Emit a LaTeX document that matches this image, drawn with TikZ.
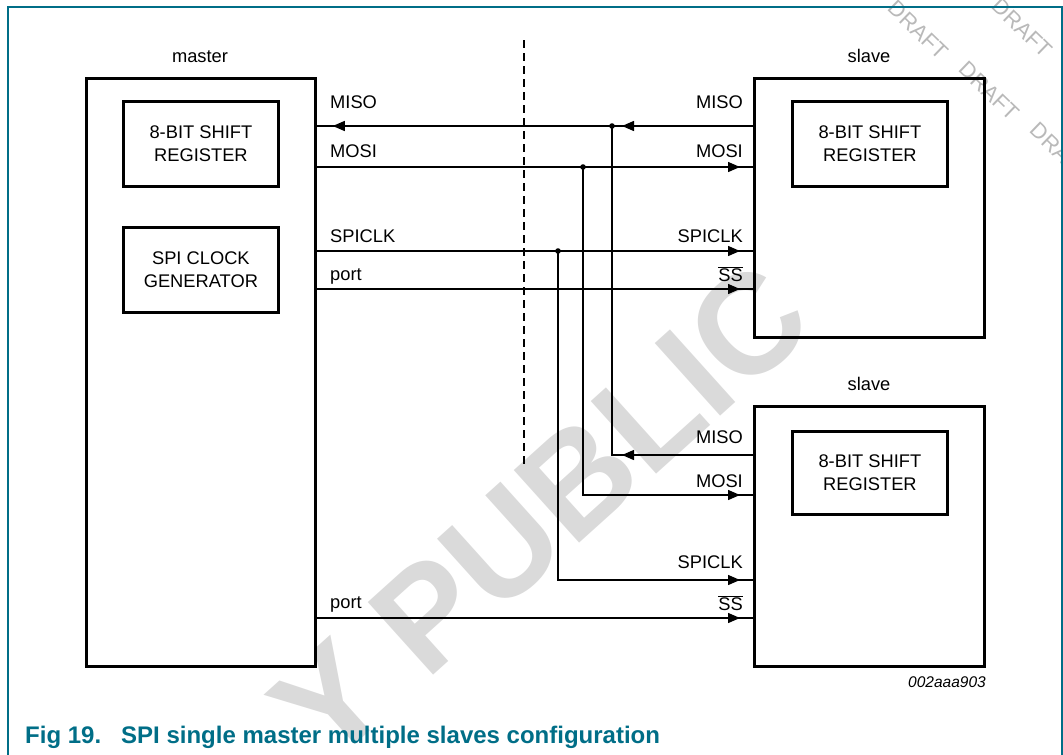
\documentclass[tikz,border=0pt]{standalone}
\usepackage{fontspec}
\setmainfont{Liberation Sans}
\usetikzlibrary{arrows.meta,calc}
\definecolor{nxpteal}{RGB}{0,110,135}
\definecolor{wmgray}{RGB}{218,218,218}
\definecolor{draftgray}{RGB}{185,185,185}
\newcommand{\sigfont}{\fontsize{18.3}{23}\selectfont}
\begin{document}
\begin{tikzpicture}[x=1pt,y=-1pt,
  box/.style={draw, line width=2.8pt, inner sep=0pt, align=center, font=\sigfont},
  sig/.style={line width=1.4pt},
  lbl/.style={inner sep=0pt, font=\sigfont},
  tipr/.style={line width=1.4pt, -{Triangle[length=12pt,width=10pt]}},
  dot/.style={fill=black},
  wm/.style={inner sep=0pt, text=wmgray, rotate=42, font=\fontsize{142}{142}\selectfont\bfseries},
  draft/.style={inner sep=0pt, text=draftgray, rotate=-44, font=\fontsize{22}{22}\selectfont},
]
\useasboundingbox (0,0) rectangle (1063,755);
\clip (0,0) rectangle (1063,755);

% watermarks
\node[wm] (wmy) at (330,702) {Y};
\node[wm] (wmp) at (590,468) {PUBLIC};
\node[draft] (dr1) at (918,30) {DRAFT};
\node[draft] (dr2) at (989,91) {DRAFT};
\node[draft] (dr3) at (1060,152) {DRAFT};
\node[draft] (dr4) at (1022,28) {DRAFT};
\node[draft] (dr5) at (1093,89) {DRAFT};

% frame
\coordinate (ftl) at (8,7);
\coordinate (fbr) at (1062,800);
\draw[nxpteal, line width=1.3pt] (ftl) rectangle (fbr);

% boxes
\node[box, anchor=north west, minimum width=229pt, minimum height=588pt] (master) at (85,77) {};
\node[box, anchor=north west, minimum width=155pt, minimum height=85pt] (mreg) at (122,100) {8-BIT SHIFT\\REGISTER};
\node[box, anchor=north west, minimum width=155pt, minimum height=85pt] (mclk) at (122,226) {SPI CLOCK\\GENERATOR};
\node[box, anchor=north west, minimum width=230pt, minimum height=259pt] (slave1) at (753,77) {};
\node[box, anchor=north west, minimum width=155pt, minimum height=85pt] (s1reg) at (791,100) {8-BIT SHIFT\\REGISTER};
\node[box, anchor=north west, minimum width=230pt, minimum height=260pt] (slave2) at (753,405) {};
\node[box, anchor=north west, minimum width=155pt, minimum height=83pt] (s2reg) at (791,430) {8-BIT SHIFT\\REGISTER};

\node[lbl, anchor=base] (lmaster) at (200,62) {master};
\node[lbl, anchor=base] (lslave1) at (869,62) {slave};
\node[lbl, anchor=base] (lslave2) at (869,390) {slave};

% dashed separator
\coordinate (dtop) at (524,40);
\coordinate (dbot) at (524,467);
\draw[line width=1.3pt, dash pattern=on 8pt off 5pt] (dtop) -- (dbot);

% junctions
\coordinate (jmiso) at (612,126);
\coordinate (jmosi) at (583,167);
\coordinate (jclk) at (558,251);
\coordinate (jport) at (524,289);
\coordinate (s2miso) at (753,455);
\coordinate (s2mosi) at (753,495);
\coordinate (s2clk) at (753,580);
\coordinate (s2ss) at (753,618);

% MISO slave1 -> master
\draw[sig] (slave1.west |- jmiso) -- (master.east |- jmiso);
\draw[tipr] ($(jmiso)+(30,0)$) -- ($(jmiso)+(10,0)$);
\draw[tipr] ($(master.east |- jmiso)+(36,0)$) -- ($(master.east |- jmiso)+(16,0)$);
% MOSI
\draw[sig] (master.east |- jmosi) -- (slave1.west |- jmosi);
\draw[tipr] ($(slave1.west |- jmosi)+(-33,0)$) -- ($(slave1.west |- jmosi)+(-13,0)$);
% SPICLK
\draw[sig] (master.east |- jclk) -- (slave1.west |- jclk);
\draw[tipr] ($(slave1.west |- jclk)+(-33,0)$) -- ($(slave1.west |- jclk)+(-13,0)$);
% port -> SS
\draw[sig] (master.east |- jport) -- (slave1.west |- jport);
\draw[tipr] ($(slave1.west |- jport)+(-33,0)$) -- ($(slave1.west |- jport)+(-13,0)$);

% branches to slave 2
\draw[sig] (jmiso) |- (s2miso);
\draw[tipr] ($(jmiso |- s2miso)+(30,0)$) -- ($(jmiso |- s2miso)+(10,0)$);
\draw[sig] (jmosi) |- (s2mosi);
\draw[tipr] ($(s2mosi)+(-33,0)$) -- ($(s2mosi)+(-13,0)$);
\draw[sig] (jclk) |- (s2clk);
\draw[tipr] ($(s2clk)+(-33,0)$) -- ($(s2clk)+(-13,0)$);
\draw[sig] (master.east |- s2ss) -- (s2ss);
\draw[tipr] ($(s2ss)+(-33,0)$) -- ($(s2ss)+(-13,0)$);

\fill[dot] (jmiso) circle (2.8pt);
\fill[dot] (jmosi) circle (2.8pt);
\fill[dot] (jclk) circle (2.8pt);

% labels master side
\node[lbl, anchor=base west] (lm1) at (330,108) {MISO};
\node[lbl, anchor=base west] (lm2) at (330,157) {MOSI};
\node[lbl, anchor=base west] (lm3) at (330,242) {SPICLK};
\node[lbl, anchor=base west] (lm4) at (330,280) {port};
\node[lbl, anchor=base west] (lm5) at (330,608) {port};
% labels slave 1
\node[lbl, anchor=base east] (ls1) at (743,108) {MISO};
\node[lbl, anchor=base east] (ls2) at (743,157) {MOSI};
\node[lbl, anchor=base east] (ls3) at (743,242) {SPICLK};
\node[lbl, anchor=base east] (ls4) at (743,281) {$\overline{\hbox{SS}}$};
% labels slave 2
\node[lbl, anchor=base east] (lt1) at (743,443) {MISO};
\node[lbl, anchor=base east] (lt2) at (743,487) {MOSI};
\node[lbl, anchor=base east] (lt3) at (743,568) {SPICLK};
\node[lbl, anchor=base east] (lt4) at (743,610) {$\overline{\hbox{SS}}$};

% id and caption
\node[inner sep=0pt, anchor=base east, font=\fontsize{15.5}{15.5}\selectfont\itshape] (figid) at (986,687) {002aaa903};
\node[inner sep=0pt, anchor=base west, text=nxpteal, font=\fontsize{24}{24}\selectfont\bfseries] (caption) at (25,743) {Fig 19.\hspace{20pt}SPI single master multiple slaves configuration};
\end{tikzpicture}
\end{document}
